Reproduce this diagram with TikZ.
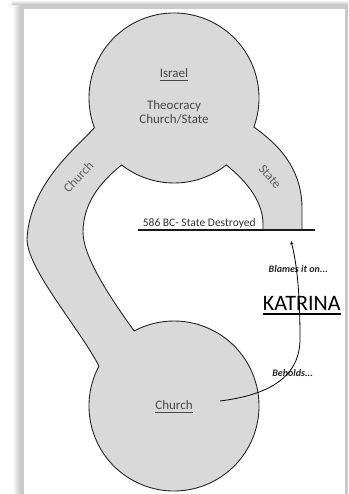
\documentclass[tikz,border=0pt]{standalone}
\usepackage{fontspec}
\setmainfont{Carlito}
\usetikzlibrary{arrows.meta,calc}
\definecolor{shapegray}{HTML}{D9D9D9}
\definecolor{shadowgray}{HTML}{CACACA}
\begin{document}
\begin{tikzpicture}[x=1pt,y=1pt,
  shapeline/.style={draw=black!85,line width=0.9pt,fill=shapegray},
  circtext/.style={text=black!72,font=\fontsize{13}{15}\selectfont,inner sep=0pt,anchor=base},
  bandtext/.style={text=black!62,font=\fontsize{13}{15}\selectfont,inner sep=0pt},
  smalllabel/.style={font=\fontsize{10}{12}\selectfont\bfseries\itshape,inner sep=0pt,anchor=base,text=black!85},
  ulline/.style={line width=0.5pt,black!72},
]
\useasboundingbox (0,0) rectangle (348,494);
% page with shadow
\fill[white] (0,0) rectangle (348,494);
\fill[shadowgray] (20,0) rectangle (348,490);
\shade[left color=white,right color=shadowgray] (12,0) rectangle (20.2,490);
\shade[top color=white,bottom color=shadowgray] (20,489.8) rectangle (348,494);
\shade[left color=white,right color=shadowgray,shading angle=0] (12,489.8) rectangle (20.2,494);
\fill[white] (24,0) rectangle (345,485);

% combined shape: Israel circle, two bands, Church circle
\filldraw[shapeline]
  ([shift={(174,396)}]-20:85) arc[start angle=-20,end angle=200.5,radius=85]
  .. controls (75,345) and (30,310) .. (27,255)
  .. controls (27,225) and (80,165) .. ([shift={(174,88)}]152:85)
  arc[start angle=152,end angle=478,radius=85]
  .. controls (115,190) and (83,235) .. (83,262)
  .. controls (83,290) and (100,312) .. ([shift={(174,396)}]232:85)
  arc[start angle=232,end angle=308,radius=85]
  .. controls (250,310) and (263,290) .. (263,270) -- (263,264) -- (302,264) -- (302,285)
  .. controls (302,320) and (285,345) .. ([shift={(174,396)}]-20:85) -- cycle;

% texts in the top circle
\node[circtext] (israel) at (174,416) {Israel};
\draw[ulline] ([yshift=-2.2pt]israel.base west) -- ([yshift=-2.2pt]israel.base east);
\node[circtext] (theo) at (174,384.7) {Theocracy};
\node[circtext] (cs) at (174,370) {Church/State};

% band labels
\node[bandtext,rotate=47] (churchband) at (78.3,316.7) {Church};
\node[bandtext,rotate=-50] (stateband) at (270,317.3) {State};

% destroyed line
\coordinate (lineL) at (138,264);
\coordinate (lineR) at (315,264);
\draw[line width=1.1pt,black!90] (lineL) -- (lineR);
\node[inner sep=0pt,anchor=base west,font=\fontsize{11.5}{13}\selectfont,text=black!80] (bc) at (142.7,267.3) {586 BC- State Destroyed};

% bottom circle text
\node[circtext] (church) at (174,84) {Church};
\draw[ulline] ([yshift=-2.2pt]church.base west) -- ([yshift=-2.2pt]church.base east);

% Katrina
\node[inner sep=0pt,anchor=base,font=\fontsize{22}{24}\selectfont] (katrina) at (301.7,183.3) {KATRINA};
\draw[line width=1.6pt] ([yshift=-3.3pt]katrina.base west) -- ([yshift=-3.3pt]katrina.base east);
\node[smalllabel] (blames) at (298.3,221) {Blames it on...};
\node[smalllabel] (beholds) at (292.7,117) {Beholds...};

% arrow
\coordinate (arrStart) at (220,93);
\coordinate (arrTip) at (291,253);
\draw[line width=0.8pt,-{Stealth[length=3.5pt,width=3pt]}] (arrStart)
  .. controls (260,98) and (300,112) .. (300,155)
  .. controls (300,200) and (297,230) .. (arrTip);
\end{tikzpicture}
\end{document}
